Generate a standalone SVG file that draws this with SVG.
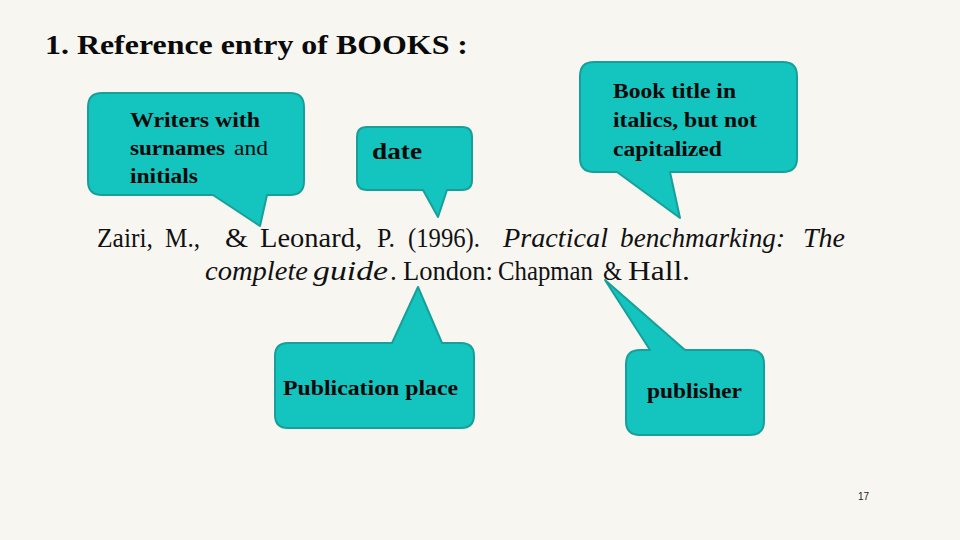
<svg xmlns="http://www.w3.org/2000/svg" width="960" height="540" viewBox="0 0 960 540">
<style>
.bub{fill:#14C4BE;stroke:#17A09A;stroke-width:2;stroke-linejoin:round}
.lbl{font-family:"Liberation Serif","Times New Roman",serif;font-weight:bold;fill:#0a0a0a}
.cit{font-family:"Liberation Serif","Times New Roman",serif;font-size:27px;fill:#111}
.it{font-style:italic}
</style>
<rect x="0" y="0" width="960" height="540" fill="#F8F6F1"/>
<text x="45" y="54" class="lbl" font-size="27" textLength="423" lengthAdjust="spacingAndGlyphs">1. Reference entry of BOOKS :</text>

<g id="citation">
<text y="247" class="cit">
<tspan x="97" textLength="56" lengthAdjust="spacingAndGlyphs">Zairi,</tspan>
<tspan x="165" textLength="35" lengthAdjust="spacingAndGlyphs">M.,</tspan>
<tspan x="225" textLength="23" lengthAdjust="spacingAndGlyphs">&amp;</tspan>
<tspan x="260" textLength="102" lengthAdjust="spacingAndGlyphs">Leonard,</tspan>
<tspan x="377" textLength="18" lengthAdjust="spacingAndGlyphs">P.</tspan>
<tspan x="408" textLength="72" lengthAdjust="spacingAndGlyphs">(1996).</tspan>
<tspan x="503" class="it" textLength="105" lengthAdjust="spacingAndGlyphs">Practical</tspan>
<tspan x="620" class="it" textLength="165" lengthAdjust="spacingAndGlyphs">benchmarking:</tspan>
<tspan x="803" class="it" textLength="42" lengthAdjust="spacingAndGlyphs">The</tspan>
</text>
<text y="280" class="cit"><tspan x="205" class="it" textLength="103" lengthAdjust="spacingAndGlyphs">complete</tspan><tspan x="313" class="it" textLength="75" lengthAdjust="spacingAndGlyphs">guide</tspan><tspan x="390">.</tspan><tspan x="403" textLength="90" lengthAdjust="spacingAndGlyphs">London:</tspan><tspan x="498" textLength="95" lengthAdjust="spacingAndGlyphs">Chapman</tspan><tspan x="603" textLength="19" lengthAdjust="spacingAndGlyphs">&amp;</tspan><tspan x="628" textLength="62" lengthAdjust="spacingAndGlyphs">Hall.</tspan></text>
</g>

<g id="writers">
<path class="bub" d="M102,93 H290 Q304,93 304,107 V181 Q304,195 290,195 H267 L260,226 L213,195 H102 Q88,195 88,181 V107 Q88,93 102,93 Z"/>
<text class="lbl" font-size="21">
<tspan x="130" y="127" textLength="130" lengthAdjust="spacingAndGlyphs">Writers with</tspan>
<tspan x="130" y="155" textLength="95" lengthAdjust="spacingAndGlyphs">surnames</tspan><tspan x="234" y="155" font-weight="normal" textLength="34" lengthAdjust="spacingAndGlyphs">and</tspan>
<tspan x="130" y="183" textLength="68" lengthAdjust="spacingAndGlyphs">initials</tspan>
</text>
</g>

<g id="date">
<path class="bub" d="M367,127 H462 Q472,127 472,137 V180 Q472,190 462,190 H447 L438,217 L423,190 H367 Q357,190 357,180 V137 Q357,127 367,127 Z"/>
<text x="372" y="159" class="lbl" font-size="23" textLength="50" lengthAdjust="spacingAndGlyphs">date</text>
</g>

<g id="title">
<path class="bub" d="M594,62 H783 Q797,62 797,76 V158 Q797,172 783,172 H670 L680,218 L617,172 H594 Q580,172 580,158 V76 Q580,62 594,62 Z"/>
<text class="lbl" font-size="21">
<tspan x="613" y="98" textLength="123" lengthAdjust="spacingAndGlyphs">Book title in</tspan>
<tspan x="613" y="127" textLength="144" lengthAdjust="spacingAndGlyphs">italics, but not</tspan>
<tspan x="613" y="156" textLength="109" lengthAdjust="spacingAndGlyphs">capitalized</tspan>
</text>
</g>

<g id="place">
<path class="bub" d="M288,343 H392 L418,287 L442,343 H461 Q474,343 474,356 V415 Q474,428 461,428 H288 Q275,428 275,415 V356 Q275,343 288,343 Z"/>
<text x="283" y="395" class="lbl" font-size="21" textLength="175" lengthAdjust="spacingAndGlyphs">Publication place</text>
</g>

<g id="publisher">
<path class="bub" d="M640,350 H650 L605,280 L685,350 H750 Q764,350 764,364 V421 Q764,435 750,435 H640 Q626,435 626,421 V364 Q626,350 640,350 Z"/>
<text x="647" y="398" class="lbl" font-size="21" textLength="95" lengthAdjust="spacingAndGlyphs">publisher</text>
</g>

<text x="858" y="500" font-family="'Liberation Sans',Arial,sans-serif" font-size="10" fill="#222">17</text>
</svg>
